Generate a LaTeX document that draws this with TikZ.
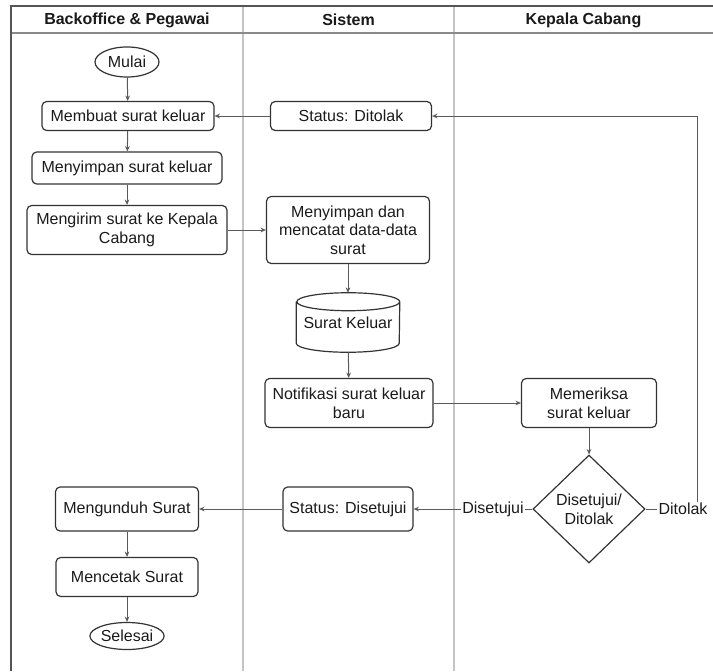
\documentclass[tikz,border=0pt]{standalone}
\usepackage{fontspec}
\setmainfont{Liberation Sans}
\usetikzlibrary{shapes.geometric,arrows.meta}

\definecolor{boxc}{HTML}{333333}
\definecolor{linec}{HTML}{5A5A5A}
\definecolor{lanec}{HTML}{C4C4C4}
\definecolor{framec}{HTML}{555555}
\definecolor{headc}{HTML}{8A8A8A}
\definecolor{txtc}{HTML}{1A1A1A}

\begin{document}
\begin{tikzpicture}[x=0.75pt,y=-0.75pt,
  every node/.style={font=\fontsize{12pt}{14pt}\selectfont, text=txtc},
  proc/.style={draw=boxc, line width=0.9pt, rounded corners=3.5pt, align=center, inner sep=0pt},
  term/.style={draw=boxc, line width=0.9pt, ellipse, inner sep=0pt},
  decide/.style={draw=boxc, line width=0.9pt, diamond, align=center, inner sep=0pt},
  flow/.style={draw=linec, line width=0.75pt, -{Stealth[length=4pt,width=3.5pt]}},
  lanehead/.style={font=\fontsize{12pt}{14pt}\selectfont\bfseries},
  edgelabel/.style={fill=white, inner sep=1pt}
]
\useasboundingbox (0,0) rectangle (713,671);

% swimlane frame
\draw[lanec, line width=1.2pt] (243,6) -- (243,671);
\draw[lanec, line width=1.2pt] (454,6) -- (454,671);
\draw[headc, line width=0.9pt] (11,33) -- (713,33);
\draw[framec, line width=1pt] (11,671) -- (11,6) -- (713,6);

\node[lanehead] (h1) at (127,20) {Backoffice \& Pegawai};
\node[lanehead] (h2) at (348.5,20) {Sistem};
\node[lanehead] (h3) at (583.5,20) {Kepala Cabang};

% flow nodes
\node[term, minimum width=48pt, minimum height=22.5pt] (mulai) at (127,62) {Mulai};
\node[proc, minimum width=129pt, minimum height=21.75pt] (buat) at (128,116) {Membuat surat keluar};
\node[proc, minimum width=120.75pt, minimum height=21.75pt] (tolak) at (351,116) {Status: Ditolak};
\node[proc, minimum width=142.5pt, minimum height=24pt] (simpan) at (127,168) {Menyimpan surat keluar};
\node[proc, minimum width=150pt, minimum height=36.75pt] (kirim) at (127,230) {Mengirim surat ke Kepala\\Cabang};
\node[proc, minimum width=122.25pt, minimum height=50.25pt] (catat) at (348,230) {Menyimpan dan\\mencatat data-data\\surat};
\node[inner sep=0pt, minimum width=77.25pt, minimum height=44.25pt] (db) at (348,322.5) {Surat Keluar};
\draw[boxc, line width=0.9pt]
  ([yshift=-6.75pt]db.north west) -- ([yshift=6.75pt]db.south west)
  arc[start angle=180, end angle=360, x radius=38.625pt, y radius=6.75pt]
  -- ([yshift=-6.75pt]db.north east)
  arc[start angle=0, end angle=180, x radius=38.625pt, y radius=6.75pt]
  arc[start angle=180, end angle=360, x radius=38.625pt, y radius=6.75pt];
\node[proc, minimum width=126pt, minimum height=36.75pt] (notif) at (349,403) {Notifikasi surat keluar\\baru};
\node[proc, minimum width=101.25pt, minimum height=36.75pt] (periksa) at (589,403) {Memeriksa\\surat keluar};
\node[decide, minimum width=84pt, minimum height=81pt] (keputusan) at (589,509) {Disetujui/\\Ditolak};
\node[proc, minimum width=97.5pt, minimum height=33pt] (setuju) at (348,509) {Status: Disetujui};
\node[proc, minimum width=107.25pt, minimum height=33pt] (unduh) at (127,509) {Mengunduh Surat};
\node[proc, minimum width=106.5pt, minimum height=29.25pt] (cetak) at (127,577) {Mencetak Surat};
\node[term, minimum width=54.75pt, minimum height=20.25pt] (selesai) at (127,636) {Selesai};

% connectors
\draw[flow] (mulai) -- (buat);
\draw[flow] (buat) -- (simpan);
\draw[flow] (simpan) -- (kirim);
\draw[flow] (kirim) -- (catat);
\draw[flow] (catat) -- (db);
\draw[flow] (db) -- (notif);
\draw[flow] (notif) -- (periksa);
\draw[flow] (periksa) -- (keputusan);
\draw[flow] (keputusan) -- (setuju);
\coordinate (belok) at (697,509);
\draw[flow] (keputusan.east) -- (belok) |- (tolak.east);
\draw[flow] (tolak) -- (buat);
\draw[flow] (setuju) -- (unduh);
\draw[flow] (unduh) -- (cetak);
\draw[flow] (cetak) -- (selesai);

\node[edgelabel] (lblsetuju) at (493,509) {Disetujui};
\node[edgelabel] (lbltolak) at (683,509) {Ditolak};
\end{tikzpicture}
\end{document}
